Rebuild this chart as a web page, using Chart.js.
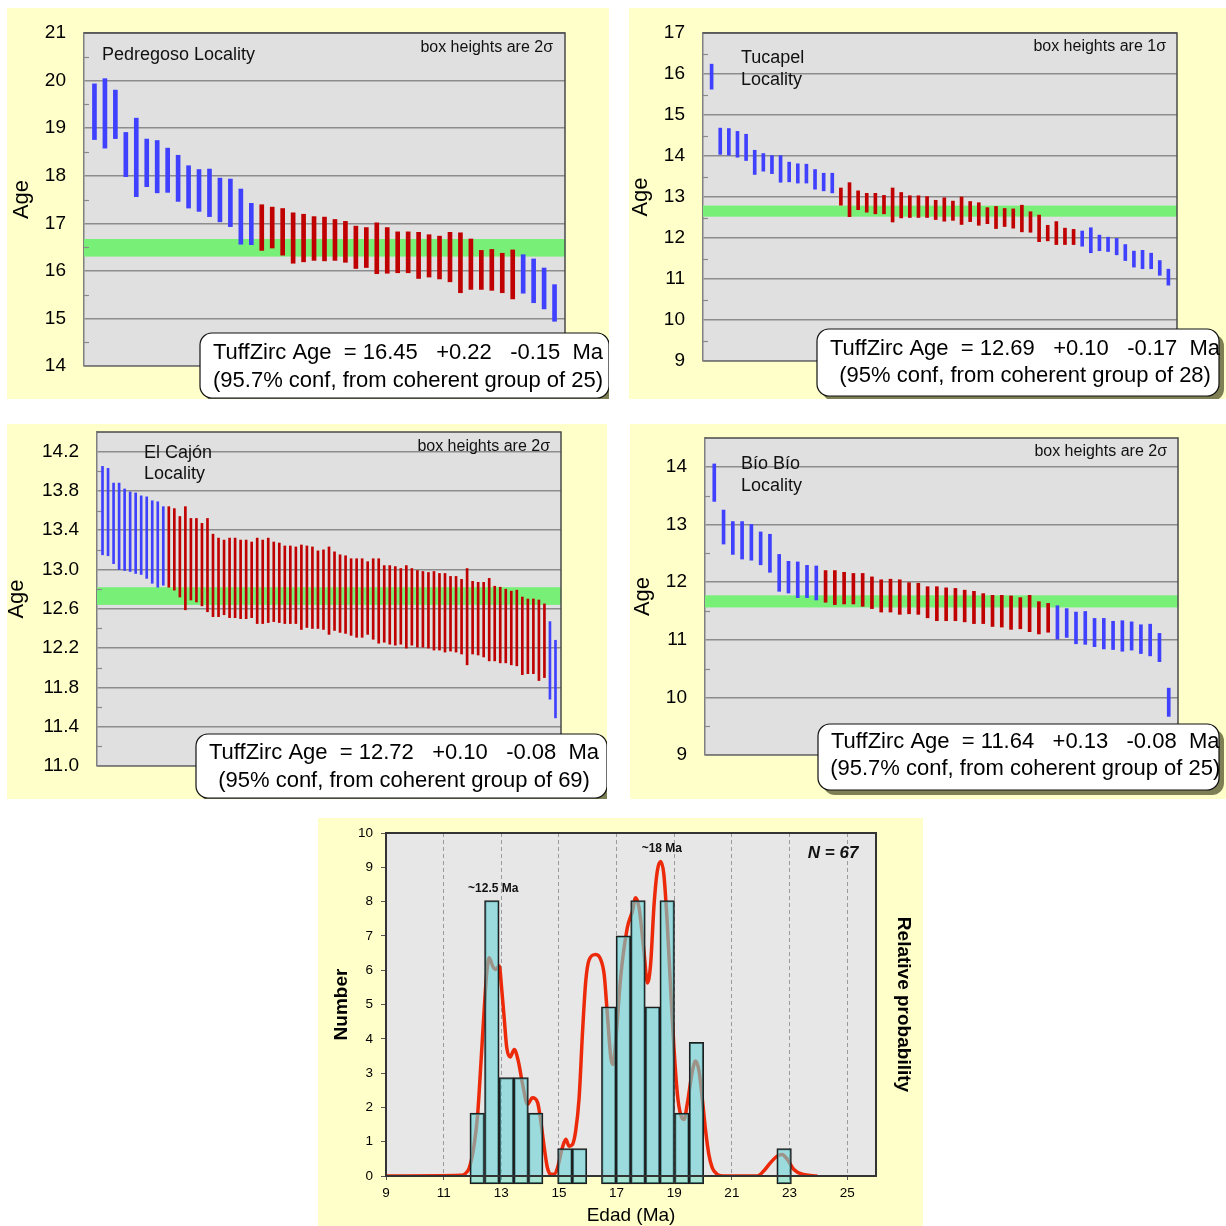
<!DOCTYPE html>
<html><head><meta charset="utf-8">
<script src="https://cdn.jsdelivr.net/npm/chart.js@4.4.1/dist/chart.umd.min.js"></script>
<style>
body{margin:0;background:#fff;width:1226px;height:1226px;position:relative;overflow:hidden;font-family:"Liberation Sans",Arial,sans-serif}
.panel{position:absolute;background:#FFFFC9}
.panel canvas{position:absolute;left:0;top:0}
</style>
</head><body>
<div class="panel" style="left:7px;top:8px;width:602px;height:391px"><canvas id="c1" width="602" height="391"></canvas></div>
<div class="panel" style="left:629px;top:8px;width:597px;height:391px"><canvas id="c2" width="597" height="391"></canvas></div>
<div class="panel" style="left:7px;top:424px;width:600px;height:375px"><canvas id="c3" width="600" height="375"></canvas></div>
<div class="panel" style="left:630px;top:424px;width:596px;height:375px"><canvas id="c4" width="596" height="375"></canvas></div>
<div class="panel" style="left:318px;top:818px;width:605px;height:408px"><canvas id="c5" width="605" height="408"></canvas></div>
<script>
// ================= DATA =================
// --- Pedregoso ---
const pedName = ['Pedregoso Locality'];
const pedSigma = 'box heights are 2σ';
const pedRange = [14, 21];
const pedTicks = [14, 15, 16, 17, 18, 19, 20, 21];
const pedMinor = [14.5, 15.5, 16.5, 17.5, 18.5, 19.5, 20.5];
const pedTop = [19.93, 20.04, 19.80, 18.91, 19.21, 18.77, 18.74, 18.58, 18.43, 18.21, 18.13, 18.14, 17.95, 17.93, 17.72, 17.42,
  17.39, 17.34, 17.31, 17.22, 17.19, 17.14, 17.13, 17.08, 17.04, 16.94, 16.91, 17.01, 16.91, 16.82, 16.82, 16.81, 16.76, 16.73, 16.81, 16.80, 16.67, 16.43, 16.45, 16.37, 16.44,
  16.34, 16.25, 16.06, 15.71];
const pedBottom = [18.76, 18.58, 18.78, 17.98, 17.56, 17.77, 17.64, 17.65, 17.46, 17.32, 17.25, 17.14, 17.03, 16.93, 16.56, 16.55,
  16.43, 16.48, 16.33, 16.16, 16.19, 16.22, 16.21, 16.22, 16.18, 16.05, 16.07, 15.94, 15.95, 15.96, 15.96, 15.84, 15.87, 15.83, 15.77, 15.54, 15.61, 15.61, 15.59, 15.54, 15.41,
  15.53, 15.33, 15.20, 14.94];
const pedCoherent = [0,0,0,0,0,0,0,0,0,0,0,0,0,0,0,0,
  1,1,1,1,1,1,1,1,1,1,1,1,1,1,1,1,1,1,1,1,1,1,1,1,1,
  0,0,0,0];
const pedAge = [16.45, 0.22, 0.15];
const pedConf = '95.7%';

// --- Tucapel ---
const tucName = ['Tucapel', 'Locality'];
const tucSigma = 'box heights are 1σ';
const tucRange = [9, 17];
const tucTicks = [9, 10, 11, 12, 13, 14, 15, 16, 17];
const tucMinor = [9.5, 10.5, 11.5, 12.5, 13.5, 14.5, 15.5, 16.5];
const tucTop = [16.24, 14.68, 14.67, 14.60, 14.53, 14.14, 14.06, 14.01, 14.01, 13.85, 13.81, 13.80, 13.67, 13.58, 13.58,
  13.22, 13.35, 13.15, 13.09, 13.09, 13.04, 13.22, 13.11, 13.03, 13.03, 13.01, 12.92, 12.98, 12.90, 13.00, 12.89, 12.86, 12.74, 12.77, 12.72, 12.71, 12.80, 12.64, 12.56, 12.31, 12.40, 12.24, 12.21,
  12.17, 12.25, 12.07, 12.02, 11.99, 11.84, 11.68, 11.70, 11.63, 11.45, 11.24];
const tucBottom = [15.63, 14.04, 14.02, 13.97, 13.89, 13.55, 13.63, 13.57, 13.36, 13.37, 13.34, 13.34, 13.19, 13.15, 13.10,
  12.80, 12.52, 12.69, 12.63, 12.59, 12.59, 12.39, 12.49, 12.50, 12.50, 12.50, 12.45, 12.41, 12.43, 12.33, 12.40, 12.31, 12.35, 12.23, 12.28, 12.24, 12.15, 12.14, 11.91, 11.93, 11.84, 11.84, 11.84,
  11.80, 11.64, 11.69, 11.67, 11.59, 11.45, 11.29, 11.25, 11.25, 11.09, 10.85];
const tucCoherent = [0,0,0,0,0,0,0,0,0,0,0,0,0,0,0,
  1,1,1,1,1,1,1,1,1,1,1,1,1,1,1,1,1,1,1,1,1,1,1,1,1,1,1,1,
  0,0,0,0,0,0,0,0,0,0,0];
const tucAge = [12.69, 0.10, 0.17];
const tucConf = '95%';

// --- El Cajón ---
const cajName = ['El Cajón', 'Locality'];
const cajSigma = 'box heights are 2σ';
const cajRange = [11.0, 14.4];
const cajTicks = [11.0, 11.4, 11.8, 12.2, 12.6, 13.0, 13.4, 13.8, 14.2];
const cajMinor = [11.2, 11.6, 12.0, 12.4, 12.8, 13.2, 13.6, 14.0];
const cajTop = [14.05, 14.03, 13.88, 13.88, 13.82, 13.79, 13.78, 13.75, 13.74, 13.70, 13.69, 13.64,
  13.64, 13.62, 13.54, 13.64, 13.52, 13.52, 13.47, 13.52, 13.36, 13.32, 13.30, 13.32, 13.32, 13.30, 13.30, 13.28, 13.32, 13.30,
  13.32, 13.28, 13.27, 13.24, 13.24, 13.23, 13.25, 13.24, 13.23, 13.19, 13.20, 13.23, 13.18, 13.15, 13.14, 13.11, 13.11, 13.11,
  13.08, 13.11, 13.11, 13.04, 13.04, 13.03, 13.01, 13.04, 13.01, 12.99, 12.98, 12.97, 12.98, 12.96, 12.96, 12.93, 12.93, 12.90,
  13.01, 12.88, 12.87, 12.87, 12.91, 12.83, 12.82, 12.80, 12.78, 12.79, 12.72, 12.70, 12.70, 12.69, 12.65,
  12.47, 12.28];
const cajBottom = [13.15, 13.14, 13.06, 13.00, 12.99, 12.98, 12.96, 12.95, 12.91, 12.86, 12.82, 12.84,
  12.82, 12.79, 12.72, 12.59, 12.69, 12.67, 12.63, 12.57, 12.52, 12.52, 12.54, 12.51, 12.51, 12.50, 12.50, 12.51, 12.45, 12.45,
  12.46, 12.47, 12.46, 12.45, 12.45, 12.45, 12.39, 12.41, 12.40, 12.40, 12.39, 12.34, 12.38, 12.36, 12.35, 12.33, 12.31, 12.31,
  12.34, 12.29, 12.25, 12.26, 12.24, 12.23, 12.24, 12.20, 12.23, 12.21, 12.21, 12.20, 12.18, 12.18, 12.16, 12.17, 12.16, 12.14,
  12.03, 12.14, 12.13, 12.11, 12.07, 12.07, 12.05, 12.05, 12.03, 12.02, 11.93, 11.94, 11.94, 11.87, 11.90,
  11.68, 11.49];
const cajCoherent = [0,0,0,0,0,0,0,0,0,0,0,0,
  1,1,1,1,1,1,1,1,1,1,1,1,1,1,1,1,1,1,1,1,1,1,1,1,1,1,1,1,1,1,1,1,1,1,1,1,1,1,1,1,1,1,1,1,1,1,1,1,1,1,1,1,1,1,1,1,1,1,1,1,1,1,1,1,1,1,1,1,1,
  0,0];
const cajAge = [12.72, 0.10, 0.08];
const cajConf = '95%';

// --- Bío Bío ---
const bioName = ['Bío Bío', 'Locality'];
const bioSigma = 'box heights are 2σ';
const bioRange = [9, 14.5];
const bioTicks = [9, 10, 11, 12, 13, 14];
const bioMinor = [9.5, 10.5, 11.5, 12.5, 13.5];
const bioTop = [14.05, 13.25, 13.05, 13.05, 13.00, 12.87, 12.83, 12.48, 12.36, 12.35, 12.29, 12.28,
  12.20, 12.20, 12.17, 12.15, 12.15, 12.09, 12.04, 12.05, 12.04, 11.99, 11.98, 11.92, 11.92, 11.90, 11.89, 11.86, 11.84, 11.80, 11.77, 11.77, 11.76, 11.73, 11.77, 11.66, 11.63,
  11.59, 11.54, 11.48, 11.49, 11.37, 11.37, 11.32, 11.33, 11.31, 11.26, 11.27, 11.11, 10.16];
const bioBottom = [13.40, 12.66, 12.48, 12.40, 12.38, 12.30, 12.17, 11.84, 11.81, 11.73, 11.73, 11.69,
  11.65, 11.61, 11.62, 11.62, 11.58, 11.54, 11.48, 11.48, 11.44, 11.45, 11.44, 11.38, 11.33, 11.33, 11.33, 11.31, 11.28, 11.28, 11.23, 11.22, 11.18, 11.19, 11.14, 11.10, 11.13,
  11.01, 11.04, 10.93, 10.92, 10.88, 10.84, 10.83, 10.80, 10.82, 10.76, 10.72, 10.62, 9.67];
const bioCoherent = [0,0,0,0,0,0,0,0,0,0,0,0,
  1,1,1,1,1,1,1,1,1,1,1,1,1,1,1,1,1,1,1,1,1,1,1,1,1,
  0,0,0,0,0,0,0,0,0,0,0,0,0];
const bioAge = [11.64, 0.13, 0.08];
const bioConf = '95.7%';

// --- Histogram / probability (Edad) ---
const histCenters = [12.165, 12.672, 13.179, 13.686, 14.193, 15.207, 15.714, 16.728, 17.235, 17.742, 18.249, 18.756, 19.263, 19.770, 22.812];
const histCounts = [2, 8, 3, 3, 2, 1, 1, 5, 7, 8, 5, 8, 2, 4, 1];
const probX = [9.0, 11.60, 11.72, 11.89, 12.06, 12.18, 12.29, 12.41, 12.50, 12.58, 12.70, 12.81, 12.93, 13.01, 13.10, 13.19, 13.31, 13.45, 13.59, 13.74,
  13.91, 14.08, 14.26, 14.37, 14.49, 14.60, 14.72, 14.83, 14.95, 15.12, 15.24, 15.35, 15.47, 15.58, 15.70, 15.82, 15.93, 16.05, 16.28, 16.45,
  16.57, 16.68, 16.80, 16.88, 16.97, 17.14, 17.37, 17.55, 17.66, 17.78, 17.95, 18.07, 18.18, 18.30, 18.41, 18.53, 18.64, 18.76, 18.88, 18.99,
  19.11, 19.22, 19.34, 19.45, 19.63, 19.74, 19.86, 19.97, 20.09, 20.20, 20.32, 20.49, 20.72, 21.88, 22.11, 22.34, 22.57, 22.74, 22.92, 23.15, 23.44, 23.96];
const probY = [0, 0.02, 0.05, 0.24, 0.92, 1.80, 3.25, 4.90, 5.97, 6.36, 6.12, 6.02, 6.12, 5.49, 4.61, 3.74, 3.47, 3.69, 3.35, 2.67,
  2.09, 2.28, 2.14, 1.60, 0.83, 0.24, 0.05, 0.05, 0.24, 0.83, 1.07, 0.87, 0.92, 1.31, 2.28, 4.22, 5.68, 6.31, 6.46, 6.31,
  5.87, 4.71, 3.45, 3.25, 3.93, 5.78, 7.23, 7.72, 8.11, 7.82, 6.55, 5.63, 6.17, 7.91, 8.88, 9.17, 8.79, 7.33, 5.39, 3.74,
  2.38, 1.80, 1.65, 2.09, 3.06, 3.35, 3.06, 2.28, 1.31, 0.63, 0.24, 0.05, 0, 0, 0.15, 0.39, 0.58, 0.63, 0.49, 0.19, 0.05, 0];
const edadTicks = [9, 11, 13, 15, 17, 19, 21, 23, 25];
const numberTicks = [0, 1, 2, 3, 4, 5, 6, 7, 8, 9, 10];
const peakLabels = ['~12.5 Ma', '~18 Ma'];
const peakX = [12.72, 18.57];
const peakY = [8.37, 9.53];
const nLabel = 'N = 67';
const nPos = [24.51, 9.42];

// ================= DRAWING =================
const FONT = '"Liberation Sans", Arial, sans-serif';
Chart.defaults.font.family = FONT;

function rrect(ctx, x, y, w, h, r) {
  ctx.beginPath();
  ctx.moveTo(x + r, y);
  ctx.arcTo(x + w, y, x + w, y + h, r);
  ctx.arcTo(x + w, y + h, x, y + h, r);
  ctx.arcTo(x, y + h, x, y, r);
  ctx.arcTo(x, y, x + w, y, r);
  ctx.closePath();
}

function tuffChart(p) {
  const pts = p.top.map((t, i) => ({ x: i + 1, y: [p.bottom[i], t] }));
  const cols = p.coh.map(c => c ? '#C00000' : '#4040FF');
  const nGroup = p.coh.reduce((a, b) => a + b, 0);
  const lines = [
    'TuffZirc Age  = ' + p.age[0].toFixed(2) + '   +' + p.age[1].toFixed(2) + '   -' + p.age[2].toFixed(2) + '  Ma',
    '(' + p.conf + ' conf, from coherent group of ' + nGroup + ')'
  ];
  const plug = {
    id: 'tuff' + p.id,
    beforeDraw(chart) {
      const { ctx, chartArea: a } = chart;
      ctx.save(); ctx.fillStyle = '#E0E0E0';
      ctx.fillRect(a.left, a.top, a.right - a.left, a.bottom - a.top); ctx.restore();
    },
    beforeDatasetsDraw(chart) {
      const { ctx, chartArea: a } = chart; const ys = chart.scales.y;
      const yHi = ys.getPixelForValue(p.age[0] + p.age[1]);
      const yLo = ys.getPixelForValue(p.age[0] - p.age[2]);
      ctx.save();
      ctx.fillStyle = '#78F078';
      ctx.fillRect(a.left, yHi, a.right - a.left, yLo - yHi);
      ctx.strokeStyle = '#8a8a8a'; ctx.lineWidth = 1.2;
      p.minor.forEach(v => {
        const y = Math.round(ys.getPixelForValue(v)) + 0.5;
        ctx.beginPath(); ctx.moveTo(a.left, y); ctx.lineTo(a.left + 5, y); ctx.stroke();
      });
      ctx.restore();
    },
    afterDatasetsDraw(chart) {
      const { ctx, chartArea: a } = chart;
      ctx.save(); ctx.strokeStyle = '#4a4a4a'; ctx.lineWidth = 1.5;
      ctx.beginPath(); ctx.moveTo(a.left, a.top); ctx.lineTo(a.right, a.top); ctx.lineTo(a.right, a.bottom); ctx.stroke();
      ctx.strokeStyle = '#777';
      ctx.beginPath(); ctx.moveTo(a.left, a.bottom); ctx.lineTo(a.right, a.bottom); ctx.stroke();
      ctx.restore();
    },
    afterDraw(chart) {
      const ctx = chart.ctx;
      ctx.save();
      ctx.fillStyle = '#111'; ctx.textBaseline = 'middle'; ctx.textAlign = 'left';
      ctx.font = '18px ' + FONT;
      p.names.forEach((s, i) => ctx.fillText(s, p.nameX, p.nameY[i]));
      ctx.font = '16px ' + FONT; ctx.textAlign = 'right';
      ctx.fillText(p.sigma, p.sigX, p.sigY);
      const [bx, by, bw, bh] = p.box;
      ctx.fillStyle = '#7f7f55';
      rrect(ctx, bx + 5, by + 5, bw, bh, 12); ctx.fill();
      ctx.fillStyle = '#fff'; ctx.strokeStyle = '#111'; ctx.lineWidth = 1.2;
      rrect(ctx, bx, by, bw, bh, 12); ctx.fill(); ctx.stroke();
      ctx.fillStyle = '#000'; ctx.font = '22px ' + FONT; ctx.textAlign = 'center';
      const w1 = ctx.measureText(lines[0]).width;
      const cx = bx + 13 + w1 / 2;
      ctx.fillText(lines[0], cx, p.lineY[0]);
      ctx.fillText(lines[1], cx, p.lineY[1]);
      ctx.restore();
    }
  };
  return new Chart(document.getElementById(p.id), {
    type: 'bar',
    data: { datasets: [{ data: pts, backgroundColor: cols, barThickness: p.barW, borderWidth: 0 }] },
    options: {
      responsive: false, animation: false, events: [],
      layout: { padding: { left: 0, top: p.pad[0], right: p.pad[1], bottom: p.pad[2] } },
      plugins: { legend: { display: false }, tooltip: { enabled: false } },
      scales: {
        x: { type: 'linear', display: false, offset: false, grid: { offset: false }, min: 0, max: p.top.length + 1 },
        y: {
          type: 'linear', min: p.range[0], max: p.range[1],
          afterBuildTicks: s => { s.ticks = p.ticks.map(v => ({ value: v })); },
          afterFit: s => { s.width = p.left; s.paddingTop = 0; s.paddingBottom = 0; },
          ticks: { font: { size: 19 }, color: '#000', padding: 18, callback: v => v.toFixed(p.dec) },
          grid: { color: '#8c8c8c', lineWidth: 1.5, drawTicks: false },
          border: { display: true, color: '#808080', width: 1.5 },
          title: { display: true, text: 'Age', color: '#000', font: { size: 22, lineHeight: 1 }, padding: { top: p.titlePad, bottom: 0 } }
        }
      }
    },
    plugins: [plug]
  });
}

tuffChart({ id: 'c1', left: 77, pad: [25, 44, 33], titlePad: 4, barW: 4, dec: 0,
  range: pedRange, ticks: pedTicks, minor: pedMinor, top: pedTop, bottom: pedBottom, coh: pedCoherent, age: pedAge, conf: pedConf,
  names: pedName, nameX: 95, nameY: [47], sigma: pedSigma, sigX: 546, sigY: 40, box: [193, 325, 409, 65], lineY: [345, 373] });
tuffChart({ id: 'c2', left: 74, pad: [25, 49, 38], titlePad: 1, barW: 3, dec: 0,
  range: tucRange, ticks: tucTicks, minor: tucMinor, top: tucTop, bottom: tucBottom, coh: tucCoherent, age: tucAge, conf: tucConf,
  names: tucName, nameX: 112, nameY: [50, 72], sigma: tucSigma, sigX: 537, sigY: 39, box: [188, 321, 402, 67], lineY: [341, 368] });
tuffChart({ id: 'c3', left: 90, pad: [8, 46, 33], titlePad: -1, barW: 2, dec: 1,
  range: cajRange, ticks: cajTicks, minor: cajMinor, top: cajTop, bottom: cajBottom, coh: cajCoherent, age: cajAge, conf: cajConf,
  names: cajName, nameX: 137, nameY: [29, 50], sigma: cajSigma, sigX: 543, sigY: 23, box: [189, 310, 411, 64], lineY: [329, 357] });
tuffChart({ id: 'c4', left: 75, pad: [14, 48, 44], titlePad: 2, barW: 3, dec: 0,
  range: bioRange, ticks: bioTicks, minor: bioMinor, top: bioTop, bottom: bioBottom, coh: bioCoherent, age: bioAge, conf: bioConf,
  names: bioName, nameX: 111, nameY: [40, 62], sigma: bioSigma, sigX: 537, sigY: 28, box: [188, 300, 401, 66], lineY: [318, 345] });

// ---------- Histogram panel ----------
const histPlug = {
  id: 'hist',
  beforeDraw(chart) {
    const { ctx, chartArea: a } = chart;
    ctx.save(); ctx.fillStyle = '#E7E7E7';
    ctx.fillRect(a.left, a.top, a.right - a.left, a.bottom - a.top); ctx.restore();
  },
  afterDatasetsDraw(chart) {
    const { ctx, chartArea: a } = chart;
    ctx.save(); ctx.strokeStyle = '#333'; ctx.lineWidth = 2;
    ctx.strokeRect(a.left, a.top, a.right - a.left, a.bottom - a.top); ctx.restore();
  },
  afterDraw(chart) {
    const { ctx } = chart; const xs = chart.scales.x, ys = chart.scales.y;
    ctx.save(); ctx.fillStyle = '#111'; ctx.textAlign = 'center'; ctx.textBaseline = 'middle';
    ctx.font = 'bold 12px ' + FONT;
    peakLabels.forEach((s, i) => ctx.fillText(s, xs.getPixelForValue(peakX[i]), ys.getPixelForValue(peakY[i])));
    ctx.font = 'italic bold 17px ' + FONT;
    ctx.fillText(nLabel, xs.getPixelForValue(nPos[0]), ys.getPixelForValue(nPos[1]));
    ctx.restore();
  }
};
new Chart(document.getElementById('c5'), {
  type: 'bar',
  data: {
    datasets: [
      { type: 'line', data: probX.map((x, i) => ({ x, y: probY[i] })), borderColor: '#EC2A0A', borderWidth: 3.5,
        pointRadius: 0, cubicInterpolationMode: 'monotone', fill: false, yAxisID: 'y', order: 2 },
      { type: 'bar', data: histCenters.map((x, i) => ({ x, y: [0, histCounts[i]] })), yAxisID: 'y2', order: 1,
        backgroundColor: 'rgba(110,212,214,0.62)', borderColor: '#1e1e1e', borderWidth: 1.5, borderSkipped: false,
        barPercentage: 1, categoryPercentage: 1, clip: false }
    ]
  },
  options: {
    responsive: false, animation: false, events: [],
    layout: { padding: { left: 0, top: 15, right: 0, bottom: 0 } },
    plugins: { legend: { display: false }, tooltip: { enabled: false } },
    scales: {
      x: {
        type: 'linear', min: 9, max: 26, offset: false,
        afterBuildTicks: s => { s.ticks = edadTicks.map(v => ({ value: v })); },
        afterFit: s => { s.height = 50; s.paddingLeft = 0; s.paddingRight = 0; },
        ticks: { font: { size: 13.5 }, color: '#000', padding: 5, maxRotation: 0 },
        grid: { offset: false, color: '#9a9a9a', lineWidth: 1, tickLength: 4, tickColor: '#555', tickBorderDash: [] },
        border: { display: false, dash: [4, 3] },
        title: { display: true, text: 'Edad (Ma)', color: '#000', font: { size: 19, lineHeight: 1 }, padding: { top: 0, bottom: 1 } }
      },
      y: {
        type: 'linear', position: 'left', min: 0, max: 10,
        afterBuildTicks: s => { s.ticks = numberTicks.map(v => ({ value: v })); },
        afterFit: s => { s.width = 68; s.paddingTop = 0; s.paddingBottom = 0; },
        ticks: { font: { size: 13.5 }, color: '#000', padding: 8 },
        grid: { drawOnChartArea: false, drawTicks: true, tickLength: 5, tickColor: '#555' },
        border: { display: false },
        title: { display: true, text: 'Number', color: '#000', font: { size: 19, weight: 'bold', lineHeight: 1 }, padding: { top: 14, bottom: 0 } }
      },
      y2: { type: 'linear', display: false, min: 0.223, max: 9.906 },
      yR: {
        type: 'linear', position: 'right', min: 0, max: 1,
        afterFit: s => { s.width = 47; s.paddingTop = 0; s.paddingBottom = 0; },
        ticks: { display: false }, grid: { display: false }, border: { display: false },
        title: { display: true, text: 'Relative probability', color: '#000', font: { size: 19, weight: 'bold', lineHeight: 1 }, padding: { top: 10, bottom: 0 } }
      }
    }
  },
  plugins: [histPlug]
});
</script>
</body></html>
